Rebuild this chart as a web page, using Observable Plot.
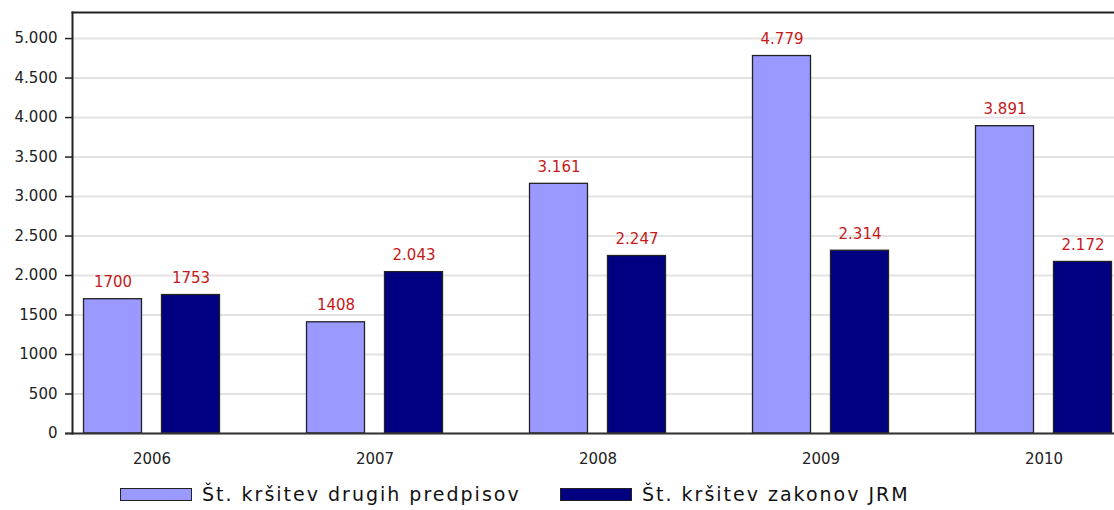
<!DOCTYPE html>
<html>
<head>
<meta charset="utf-8">
<script src="https://cdn.jsdelivr.net/npm/d3@7"></script>
<script src="https://cdn.jsdelivr.net/npm/@observablehq/plot@0.6"></script>
<style>
  html, body { margin: 0; padding: 0; background: white; overflow: hidden; }
  #chart { width: 1114px; }
  .legend { position: relative; width: 1114px; height: 32px; font-family: "DejaVu Sans", sans-serif; font-size: 19px; letter-spacing: 2px; color: #111; }
  .item { position: absolute; top: 0; height: 32px; display: flex; align-items: center; white-space: nowrap; }
  .sw { width: 70px; height: 11px; border: 1px solid #222; margin-right: 10px; }
</style>
</head>
<body>
<div id="chart"></div>
<div class="legend" id="legend"></div>
<script>
const years = ["2006", "2007", "2008", "2009", "2010"];
const drugih = [1700, 1408, 3161, 4779, 3891];
const jrm = [1753, 2043, 2247, 2314, 2172];
const drugihLabels = ["1700", "1408", "3.161", "4.779", "3.891"];
const jrmLabels = ["1753", "2.043", "2.247", "2.314", "2.172"];
const yTicks = [0, 500, 1000, 1500, 2000, 2500, 3000, 3500, 4000, 4500, 5000];
const yTickLabels = ["0", "500", "1000", "1500", "2.000", "2.500", "3.000", "3.500", "4.000", "4.500", "5.000"];
const seriesNames = ["Št. kršitev drugih predpisov", "Št. kršitev zakonov JRM"];
const colors = ["#9999ff", "#000080"];

const dataD = years.map((y, i) => ({year: y, value: drugih[i], label: drugihLabels[i]}));
const dataJ = years.map((y, i) => ({year: y, value: jrm[i], label: jrmLabels[i]}));

const chart = Plot.plot({
  width: 1114,
  height: 478,
  marginLeft: 72,
  marginRight: 0,
  marginTop: 12,
  marginBottom: 45,
  x: {domain: years, range: [39.5, 1154.5], padding: 0},
  y: {domain: [0, 5330]},
  style: {fontFamily: "DejaVu Sans, sans-serif", fontSize: "15px", color: "#222", background: "white"},
  marks: [
    Plot.gridY(yTicks, {stroke: "#e3e3e3", strokeOpacity: 1, strokeWidth: 2}),
    Plot.barY(dataD, {x: "year", y: "value", fill: colors[0], stroke: "#222", strokeWidth: 1.3, insetLeft: 43.5, insetRight: 121.5}),
    Plot.barY(dataJ, {x: "year", y: "value", fill: colors[1], stroke: "#222", strokeWidth: 1.3, insetLeft: 121.5, insetRight: 43.5}),
    Plot.text(dataD, {x: "year", y: "value", text: "label", dx: -39, dy: -17, fill: "#c41a1a", fontSize: 15}),
    Plot.text(dataJ, {x: "year", y: "value", text: "label", dx: 39, dy: -17, fill: "#c41a1a", fontSize: 15}),
    Plot.axisY({ticks: yTicks, tickFormat: d => yTickLabels[yTicks.indexOf(d)], tickSize: 7, tickPadding: 8, fontSize: 15, stroke: "#222", strokeWidth: 1.5, label: null}),
    Plot.axisX({tickSize: 0, tickPadding: 20, fontSize: 15, label: null}),
    Plot.ruleY([0], {stroke: "#333", strokeWidth: 2, insetLeft: -7}),
    Plot.frame({anchor: "left", stroke: "#222", strokeWidth: 2}),
    Plot.frame({anchor: "top", stroke: "#222", strokeWidth: 2})
  ]
});
document.getElementById("chart").appendChild(chart);

const legend = document.getElementById("legend");
const lefts = [120, 560];
seriesNames.forEach((name, i) => {
  const item = document.createElement("div");
  item.className = "item";
  item.style.left = lefts[i] + "px";
  const sw = document.createElement("div");
  sw.className = "sw";
  sw.style.background = colors[i];
  const t = document.createElement("span");
  t.textContent = name;
  item.appendChild(sw);
  item.appendChild(t);
  legend.appendChild(item);
});
</script>
</body>
</html>
